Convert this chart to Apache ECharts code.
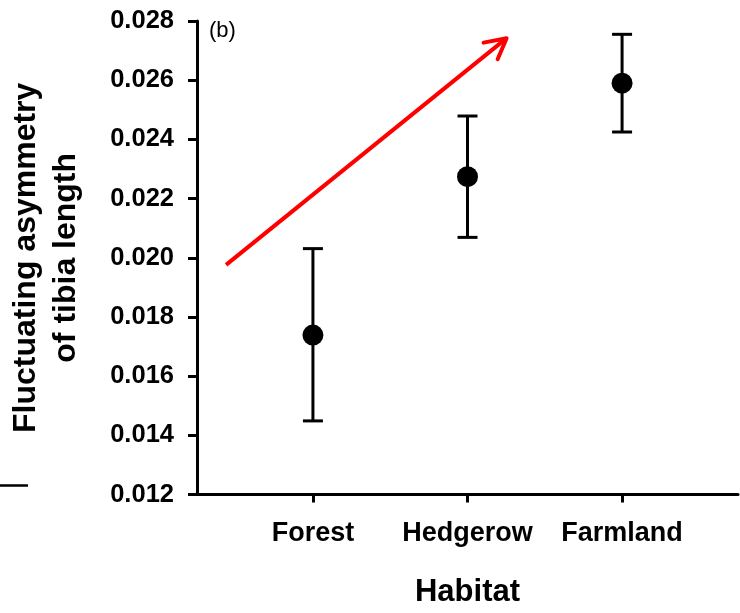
<!DOCTYPE html>
<html>
<head>
<meta charset="utf-8">
<script src="https://cdn.jsdelivr.net/npm/echarts@6/dist/echarts.min.js"></script>
<style>
html,body{margin:0;padding:0;background:#fff;}
#chart{width:740px;height:613px;}
</style>
</head>
<body>
<div id="chart"></div>
<script>
// Data
const categories = ['Forest', 'Hedgerow', 'Farmland'];
const positions = [1, 2, 3];
const means = [0.01739, 0.02274, 0.02590];
const upper = [0.02031, 0.02479, 0.02755];
const lower = [0.01449, 0.02069, 0.02425];
// Trend arrow annotation (in data coordinates)
const arrowLine = [[0.438, 0.01976], [2.253, 0.02742]];
const arrowHead = [[2.104, 0.02727], [2.253, 0.02742], [2.195, 0.02671]];

const FONT = '"Liberation Sans", Arial, sans-serif';

const chart = echarts.init(document.getElementById('chart'), null, {renderer: 'canvas'});

const option = {
  animation: false,
  backgroundColor: '#ffffff',
  grid: {left: 197, right: 2, top: 21, bottom: 118.4, containLabel: false, outerBoundsMode: 'none'},
  xAxis: {
    type: 'value',
    min: 0.25,
    max: 3.75,
    name: 'Habitat',
    nameLocation: 'middle',
    nameGap: 82,
    nameTextStyle: {fontFamily: FONT, fontWeight: 'bold', fontSize: 31, color: '#000'},
    axisLine: {show: true, onZero: false, lineStyle: {color: '#000', width: 3}},
    axisTick: {show: true, customValues: positions, length: 8, inside: false, lineStyle: {color: '#000', width: 3}},
    axisLabel: {
      customValues: positions,
      margin: 25,
      fontFamily: FONT, fontWeight: 'bold', fontSize: 27, color: '#000',
      formatter: function (v) { const i = positions.indexOf(v); return i >= 0 ? categories[i] : ''; }
    },
    splitLine: {show: false}
  },
  yAxis: {
    type: 'value',
    min: 0.012,
    max: 0.028,
    interval: 0.002,
    name: 'Fluctuating asymmetry\nof tibia length',
    nameLocation: 'middle',
    nameGap: 111,
    nameRotate: 90,
    nameTextStyle: {fontFamily: FONT, fontWeight: 'bold', fontSize: 32, color: '#000', lineHeight: 40, align: 'center'},
    axisLine: {show: true, onZero: false, lineStyle: {color: '#000', width: 3}},
    axisTick: {show: true, length: 9, lineStyle: {color: '#000', width: 3}},
    axisLabel: {
      margin: 23,
      fontFamily: FONT, fontWeight: 'bold', fontSize: 25.5, color: '#000',
      formatter: function (v) { return v.toFixed(3); }
    },
    splitLine: {show: false}
  },
  graphic: [
    {type: 'text', left: 209, top: 20, style: {text: '(b)', font: '22px "Liberation Sans", Arial, sans-serif', fill: '#000'}},
    {type: 'line', shape: {x1: 0, y1: 485.5, x2: 28, y2: 485.5}, style: {stroke: '#000', lineWidth: 2.5}}
  ],
  series: [
    {
      type: 'line',
      data: arrowLine,
      symbol: 'none',
      lineStyle: {color: '#ff0000', width: 4, cap: 'butt'},
      z: 1,
      silent: true
    },
    {
      type: 'line',
      data: arrowHead,
      symbol: 'none',
      lineStyle: {color: '#ff0000', width: 4, cap: 'round', join: 'round'},
      z: 1,
      silent: true
    },
    {
      type: 'custom',
      data: positions.map((p, i) => [p, lower[i], upper[i]]),
      renderItem: function (params, api) {
        const x = api.value(0);
        const lo = api.coord([x, api.value(1)]);
        const hi = api.coord([x, api.value(2)]);
        const hw = 10;
        const st = {stroke: '#000', lineWidth: 3};
        return {
          type: 'group',
          children: [
            {type: 'line', shape: {x1: lo[0], y1: lo[1], x2: hi[0], y2: hi[1]}, style: st},
            {type: 'line', shape: {x1: lo[0] - hw, y1: lo[1], x2: lo[0] + hw, y2: lo[1]}, style: st},
            {type: 'line', shape: {x1: hi[0] - hw, y1: hi[1], x2: hi[0] + hw, y2: hi[1]}, style: st}
          ]
        };
      },
      z: 2
    },
    {
      type: 'scatter',
      data: positions.map((p, i) => [p, means[i]]),
      symbol: 'circle',
      symbolSize: 21,
      itemStyle: {color: '#000', opacity: 1},
      z: 3
    }
  ]
};
chart.setOption(option);
</script>
</body>
</html>
